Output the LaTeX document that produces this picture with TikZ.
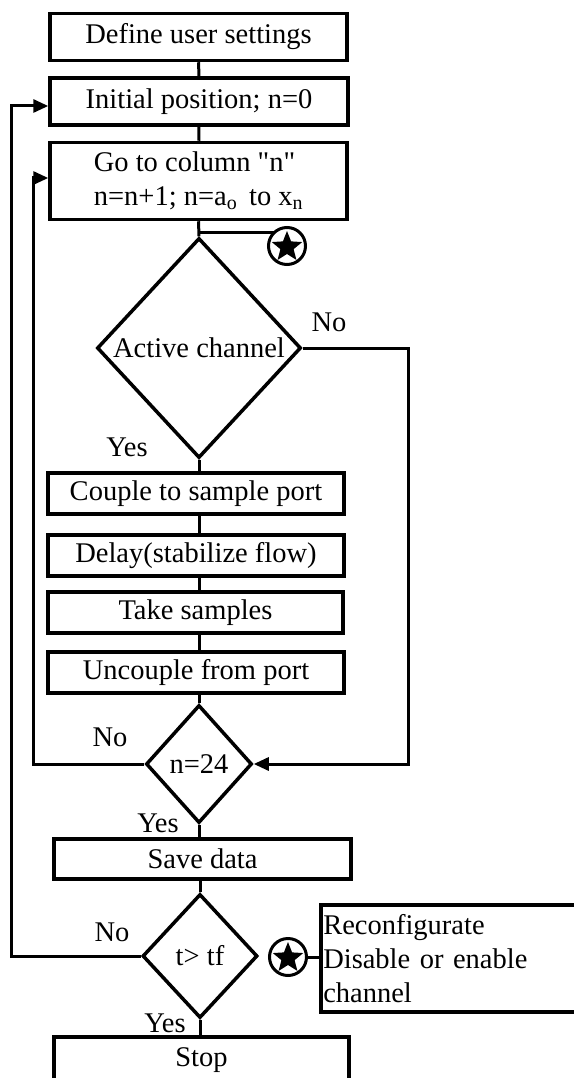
\documentclass[tikz,border=0pt]{standalone}
\usepackage{fontspec}
\newfontfamily\rf{Liberation Serif}
\usetikzlibrary{shapes.geometric,arrows.meta}
\begin{document}
\begin{tikzpicture}[x=1pt,y=-1pt,
  every node/.style={font=\rf\fontsize{28.5}{34}\selectfont},
  box/.style={draw,line width=3.5pt,inner sep=0pt,align=center},
  dia/.style={draw,shape=diamond,line width=3.5pt,inner sep=0pt},
  lbl/.style={inner sep=0pt},
  con/.style={line width=3pt},
  arr/.style={line width=3pt,-{Triangle[length=15pt,width=13pt]}},
  starc/.style={draw,circle,line width=3pt,minimum size=37pt,inner sep=0pt},
  starf/.style={star,star points=5,star point ratio=2.3,fill=black,minimum size=32pt,inner sep=0pt}
]
\useasboundingbox (0,0) rectangle (573,1078);
\node[box,minimum width=297,minimum height=47] (def) at (198.5,37) {Define user settings};
\node[box,minimum width=298,minimum height=47] (init) at (199,101.5) {Initial position; n=0};
\node[box,minimum width=297,minimum height=77,align=left] (goto) at (198.5,181)
  {Go to column "n"\\n=n+1; n=a\textsubscript{o}\ \,to x\textsubscript{n}};
\node[dia,minimum width=204,minimum height=220,label=center:{Active channel}] (act) at (199,348) {};
\node[box,minimum width=296,minimum height=41] (couple) at (196,493.5) {Couple to sample port};
\node[box,minimum width=296,minimum height=41] (delay) at (196,555.5) {Delay(stabilize flow)};
\node[box,minimum width=295,minimum height=41] (take) at (195.5,612.5) {Take samples};
\node[box,minimum width=296,minimum height=41] (uncouple) at (196,672.5) {Uncouple from port};
\node[dia,minimum width=106,minimum height=118,label=center:{n=24}] (n24) at (199,764) {};
\node[box,minimum width=297,minimum height=40] (save) at (202.5,859) {Save data};
\node[dia,minimum width=115,minimum height=124,label=center:{t> tf}] (ttf) at (200,956) {};
\node[box,minimum width=295,minimum height=46] (stop) at (201.5,1060) {Stop};
\node[box,minimum width=260,minimum height=107,text width=255,align=left,inner sep=1.5pt,anchor=west] (recfg) at (319,958.5)
  {Reconfigurate\\Disable or enable\\channel};
% stars
\node[starc] (star1) at (287,246) {};
\node[starf] (st1) at ([yshift=-1pt]star1.center) {};
\node[starc] (star2) at (288,957) {};
\node[starf] (st2) at ([yshift=-1pt]star2.center) {};
% labels
\node[lbl] (no1) at (329,322) {No};
\node[lbl] (yes1) at (127,447) {Yes};
\node[lbl] (no2) at (110,737) {No};
\node[lbl] (yes2) at (158,823) {Yes};
\node[lbl] (no3) at (112,932) {No};
\node[lbl] (yes3) at (165,1023) {Yes};
% coordinates
\coordinate (j1) at (199,232);
\coordinate (s1a) at (274,232);
\coordinate (r1) at (408,348);
\coordinate (r2) at (408,764);
\coordinate (l1) at (33,764);
\coordinate (l2) at (33,178);
\coordinate (l3) at (11,956);
\coordinate (l4) at (11,106);
% connectors
\draw[con] (def) -- (init);
\draw[con] (init) -- (goto);
\draw[con] (goto.south) -- (act.north);
\draw[con] (j1) -- (s1a);
\draw[con] (act.south) -- (couple.north -| act.south);
\draw[con] (couple.south -| act.south) -- (delay.north -| act.south);
\draw[con] (delay.south -| act.south) -- (take.north -| act.south);
\draw[con] (take.south -| act.south) -- (uncouple.north -| act.south);
\draw[con] (uncouple.south -| n24.north) -- (n24.north);
\draw[con] (n24.south) -- (save.north -| n24.south);
\draw[con] (save.south -| ttf.north) -- (ttf.north);
\draw[con] (ttf.south) -- (stop.north -| ttf.south);
\draw[arr] (act.east) -- (r1) -- (r2) -- (n24.east);
\draw[arr] (n24.west) -- (l1) -- (l2) -- (l2 -| goto.west);
\draw[arr] (ttf.west) -- (l3) -- (l4) -- (l4 -| init.west);
\draw[con] (star2.east) -- (star2.east -| recfg.west);
\end{tikzpicture}
\end{document}
